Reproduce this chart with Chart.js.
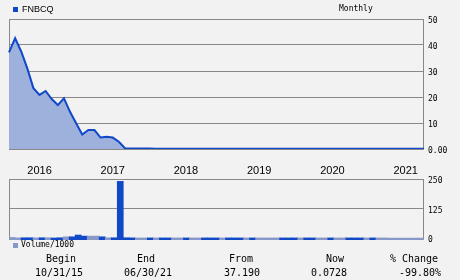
<!DOCTYPE html>
<html>
<head>
<meta charset="utf-8">
<script src="https://cdn.jsdelivr.net/npm/chart.js@4.4.1/dist/chart.umd.min.js"></script>
<style>
  body { margin: 0; background: #f2f2f2; width: 460px; height: 280px; position: relative; overflow: hidden; font-family: "DejaVu Sans Mono", monospace; color: #000; }
  canvas { position: absolute; left: 0; }
  #price { top: 0; }
  #volume { top: 170px; }
  .txt { position: absolute; white-space: nowrap; line-height: 12px; }
  .c { width: 90px; text-align: center; }
  .sq { position: absolute; width: 5px; height: 5px; }
</style>
</head>
<body>
<canvas id="price" width="460" height="180"></canvas>
<canvas id="volume" width="460" height="82"></canvas>

<div class="sq" style="left:13px;top:7px;background:#1048c8"></div>
<div class="txt" style="left:22px;top:3px;font:9px 'Liberation Sans';line-height:12px">FNBCQ</div>
<div class="txt" style="left:339px;top:3px;font-size:8px">Monthly</div>

<div class="sq" style="left:13px;top:243px;background:#8898c8"></div>
<div class="txt" style="left:21px;top:239px;font-size:8px">Volume/1000</div>

<div class="txt c" style="left:16px;top:253px;font-size:10px">Begin</div>
<div class="txt c" style="left:101px;top:253px;font-size:10px">End</div>
<div class="txt c" style="left:196px;top:253px;font-size:10px">From</div>
<div class="txt c" style="left:290px;top:253px;font-size:10px">Now</div>
<div class="txt c" style="left:369px;top:253px;font-size:10px">% Change</div>
<div class="txt c" style="left:14px;top:267px;font-size:10px">10/31/15</div>
<div class="txt c" style="left:103px;top:267px;font-size:10px">06/30/21</div>
<div class="txt c" style="left:197px;top:267px;font-size:10px">37.190</div>
<div class="txt c" style="left:284px;top:267px;font-size:10px">0.0728</div>
<div class="txt c" style="left:375px;top:267px;font-size:10px">-99.80%</div>

<script>
// monthly closes, Oct 2015 .. Jun 2021
const price = [
  37.19, 42.6, 37.5, 31.0, 23.4, 20.8, 22.3, 19.2, 16.9, 19.5,
  14.3, 9.9, 5.6, 7.3, 7.3, 4.4, 4.7, 4.4, 2.8, 0.3,
  0.22, 0.19, 0.17, 0.15, 0.14, 0.13, 0.12, 0.12, 0.11, 0.11,
  0.10, 0.10, 0.10, 0.09, 0.09, 0.09, 0.09, 0.08, 0.08, 0.08,
  0.08, 0.08, 0.08, 0.08, 0.08, 0.07, 0.07, 0.07, 0.07, 0.07,
  0.07, 0.07, 0.07, 0.07, 0.07, 0.07, 0.07, 0.07, 0.07, 0.07,
  0.07, 0.07, 0.07, 0.07, 0.07, 0.07, 0.07, 0.07, 0.0728
];

// volume in thousands
const volume = [
  3, 1, 1.5, 1.5, 1, 1.5, 1.5, 0.5, 1.5, 5.5,
  5.5, 13, 8.5, 8.5, 8.5, 5.5, 1.5, 1.5, 240, 1.5,
  1, 0.8, 0.8, 0.8, 0.8, 0.8, 0.8, 0.8, 0.8, 0.8,
  0.8, 0.8, 0.8, 0.8, 0.8, 0.8, 0.8, 0.8, 0.8, 0.8,
  0.8, 0.8, 0.8, 0.8, 0.8, 0.8, 0.8, 0.8, 0.8, 0.8,
  0.8, 0.8, 0.8, 0.8, 0.8, 0.8, 0.8, 0.8, 0.8, 0.8,
  0.8, 0.8, 0.8, 0, 0, 0, 0, 0, 0
];

// 1 = up month (dark bar), 0 = down month (light bar)
const volumeUp = [
  0, 0, 1, 1, 0, 1, 0, 1, 1, 0,
  1, 1, 1, 0, 0, 1, 0, 1, 1, 1,
  1, 0, 0, 1, 0, 1, 1, 0, 0, 1,
  0, 0, 1, 1, 1, 0, 1, 1, 1, 0,
  1, 0, 0, 0, 0, 1, 1, 1, 0, 1,
  1, 0, 0, 1, 0, 0, 1, 1, 1, 0,
  1, 0, 0, 0, 0, 0, 0, 0, 0
];

const priceTicks = [0, 10, 20, 30, 40, 50];
const volumeTicks = [0, 125, 250];

const months = [];
for (let i = 0; i < price.length; i++) {
  const m = (9 + i) % 12;
  const y = 2015 + Math.floor((9 + i) / 12);
  months.push(y + '-' + String(m + 1).padStart(2, '0'));
}

const DARK = '#1048c8';
const LIGHT = '#8898c8';
const FILL = '#9eb0dc';
const GRID = '#888';

const frame = {
  id: 'frame',
  beforeDatasetsDraw(chart) {
    const { ctx, chartArea: a } = chart;
    ctx.save();
    ctx.strokeStyle = GRID;
    ctx.lineWidth = 1;
    ctx.beginPath();
    ctx.moveTo(a.left + 0.5, a.bottom);
    ctx.lineTo(a.left + 0.5, a.top + 0.5);
    ctx.lineTo(a.right - 0.5, a.top + 0.5);
    ctx.lineTo(a.right - 0.5, a.bottom);
    ctx.stroke();
    ctx.restore();
  }
};

const tickFont = { family: 'DejaVu Sans Mono', size: 8 };

new Chart(document.getElementById('price'), {
  type: 'line',
  data: {
    labels: months,
    datasets: [{
      data: price,
      borderColor: DARK,
      borderWidth: 2,
      backgroundColor: FILL,
      fill: 'origin',
      pointRadius: 0,
      tension: 0
    }]
  },
  options: {
    responsive: false,
    animation: false,
    layout: { padding: { left: 9, top: 19, right: 0, bottom: 0 } },
    plugins: { legend: { display: false }, tooltip: { enabled: false } },
    scales: {
      x: {
        grid: { display: false },
        border: { display: false },
        ticks: {
          autoSkip: false, maxRotation: 0, padding: 7, color: '#000',
          font: { family: 'Liberation Sans', size: 11 },
          callback: (v, i) => months[i].endsWith('-03') ? months[i].slice(0, 4) : ''
        },
        afterFit: s => { s.height = 31; s.paddingLeft = 0; s.paddingRight = 0; }
      },
      y: {
        position: 'right',
        min: 0, max: 50,
        afterBuildTicks: s => { s.ticks = priceTicks.map(v => ({ value: v })); },
        ticks: {
          padding: 4, labelOffset: 2, color: '#000', font: tickFont,
          callback: v => v === 0 ? '0.00' : String(v)
        },
        grid: { color: GRID, drawTicks: false },
        border: { display: false },
        afterFit: s => { s.width = 36; }
      }
    }
  },
  plugins: [frame]
});

new Chart(document.getElementById('volume'), {
  type: 'bar',
  data: {
    labels: months,
    datasets: [{
      data: volume,
      backgroundColor: volumeUp.map(u => u ? DARK : LIGHT),
      barPercentage: 1,
      categoryPercentage: 1,
      borderWidth: 0,
      base: -8
    }]
  },
  options: {
    responsive: false,
    animation: false,
    layout: { padding: { left: 9, top: 9, right: 0, bottom: 12 } },
    plugins: { legend: { display: false }, tooltip: { enabled: false } },
    scales: {
      x: { display: false },
      y: {
        position: 'right',
        min: -8, max: 250,
        afterBuildTicks: s => { s.ticks = volumeTicks.map(v => ({ value: v })); },
        ticks: { padding: 4, labelOffset: 2, color: '#000', font: tickFont },
        grid: { color: c => c.tick && c.tick.value === 0 ? 'transparent' : GRID, drawTicks: false },
        border: { display: false },
        afterFit: s => { s.width = 36; }
      }
    }
  },
  plugins: [frame]
});
</script>
</body>
</html>
